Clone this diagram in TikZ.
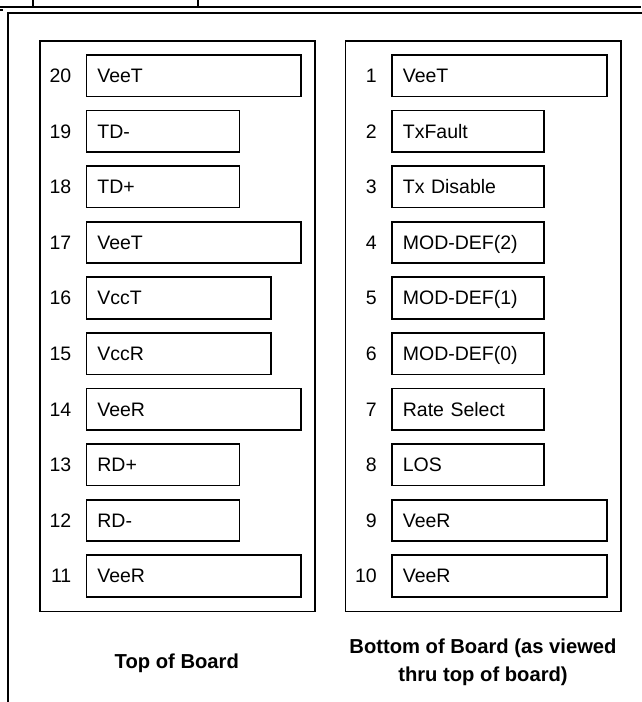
\documentclass[tikz,border=0pt]{standalone}
\usepackage{fontspec}
\setmainfont{Liberation Sans}
\usetikzlibrary{positioning}
\tikzset{
  board/.style={draw,line width=1.8pt,anchor=north west,inner sep=0pt},
  pinbox/.style={draw,line width=1.7pt,anchor=north west,minimum height=41.5pt,
              inner xsep=11pt,text height=13.8pt,text depth=0pt,align=left,
              font=\fontsize{19.5}{22}\selectfont},
  pinno/.style={inner sep=0pt,text height=13.8pt,text depth=0pt,
              font=\fontsize{19.5}{22}\selectfont},
  captxt/.style={inner sep=0pt,align=center,anchor=base,
              font=\bfseries\fontsize{20.2}{27.7}\selectfont},
  edgerule/.style={line width=1.2pt},
  outerframe/.style={line width=1.8pt},
}
\begin{document}
\begin{tikzpicture}[x=1pt,y=-1pt]
  \useasboundingbox (0,0) rectangle (641,702);
  % cut-off table edge and outer frame
  \draw[edgerule] (0,7) -- (641,7) (33,0) -- (33,7) (198,0) -- (198,7) (0,10) -- (3,10);
  \draw[outerframe] (642,12.7) -| (8,703);
  % the two sides of the board
  \node[board,minimum width=275pt,minimum height=570.5pt] (topbrd) at (39.3,40) {};
  \node[board,minimum width=275.5pt,minimum height=570.5pt] (botbrd) at (344.5,40) {};
  \foreach \n/\t/\w [count=\i from 0] in {20/VeeT/192.5,19/TD-/131,18/TD+/131,
      17/VeeT/192.5,16/VccT/162.5,15/VccR/162.5,14/VeeR/192.5,13/RD+/131,
      12/RD-/131,11/VeeR/192.5}{
    \node[pinbox,text width=\w pt] (l\n) at (85.5,{54+55.6*\i}) {\t};
    \node[pinno,left=14pt of l\n] (nl\n) {\n};
  }
  \foreach \n/\t/\w [count=\i from 0] in {1/VeeT/193,2/TxFault/130,
      3/Tx Disable/130,4/MOD-DEF(2)/130,5/MOD-DEF(1)/130,6/MOD-DEF(0)/130,
      7/Rate Select/130,8/LOS/130,9/VeeR/193,10/VeeR/193}{
    \node[pinbox,text width=\w pt] (r\n) at (391,{54+55.6*\i}) {\t};
    \node[pinno,left=14pt of r\n] (nr\n) {\n};
  }
  \node[captxt] (topcap) at (176.8,668) {Top of Board};
  \node[captxt] (botcap) at (483,681) {Bottom of Board (as viewed\\thru top of board)};
\end{tikzpicture}
\end{document}
